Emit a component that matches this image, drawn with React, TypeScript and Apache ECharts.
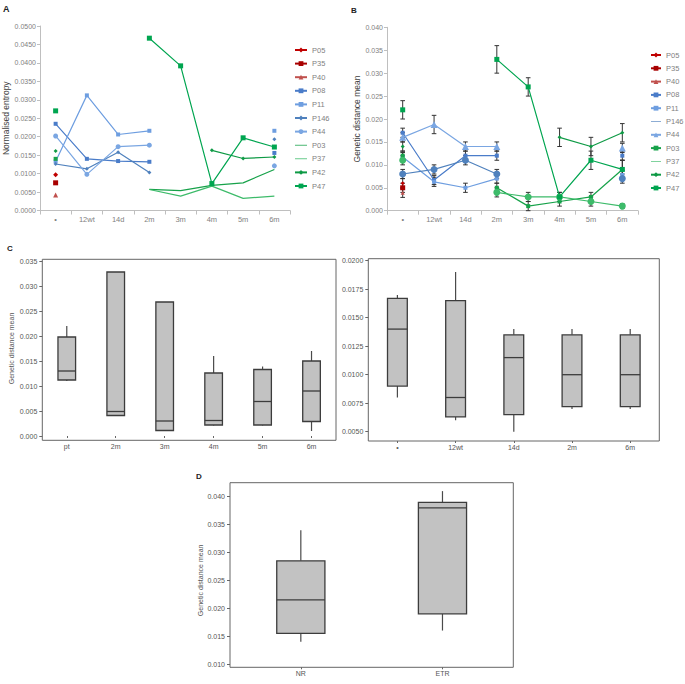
import React, { useEffect, useRef } from "react";
import * as echarts from "echarts";

const timeCats = ["•", "12wt", "14d", "2m", "3m", "4m", "5m", "6m"];
const patients = ["P05", "P35", "P40", "P08", "P11", "P146", "P44", "P03", "P37", "P42", "P47"];

// Panel A: normalised entropy
const aP05 = [0.0097, null, null, null, null, null, null, null];
const aP35 = [0.0075, null, null, null, null, null, null, null];
const aP40 = [0.0042, null, null, null, null, null, null, null];
const aP08 = [0.0235, 0.014, 0.0134, 0.0132, null, null, null, 0.0156];
const aP11 = [0.0133, 0.0312, 0.0206, 0.0216, null, null, null, 0.0216];
const aP146 = [0.0126, 0.0113, 0.0158, 0.0103, null, null, null, 0.0193];
const aP44 = [0.0202, 0.0098, 0.0173, 0.0177, null, null, null, 0.0121];
const aP03 = [0.014, null, null, 0.0057, 0.0054, 0.0068, 0.0075, 0.0111];
const aP37 = [null, null, null, 0.0057, 0.0039, 0.0066, 0.0033, 0.0039];
const aP42 = [0.0161, null, null, null, null, 0.0163, 0.0141, 0.0145];
const aP47 = [0.027, null, null, 0.0467, 0.0392, 0.0073, 0.0197, 0.0172];

// Panel B: genetic distance mean
const bP05 = [0.006, null, null, null, null, null, null, null];
const bP35 = [0.005, null, null, null, null, null, null, null];
const bP40 = [0.0039, null, null, null, null, null, null, null];
const bP08 = [0.017, 0.0067, 0.012, 0.012, null, null, null, 0.012];
const bP11 = [0.0117, 0.0063, 0.005, 0.007, null, null, null, 0.0078];
const bP146 = [0.008, 0.009, 0.011, 0.008, null, null, null, 0.007];
const bP44 = [0.016, 0.0188, 0.014, 0.014, null, null, null, 0.0137];
const bP03 = [0.012, null, null, 0.005, 0.001, 0.002, 0.003, 0.009];
const bP37 = [0.011, null, null, 0.004, 0.003, 0.003, 0.002, 0.001];
const bP42 = [0.014, null, null, null, null, 0.016, 0.014, 0.017];
const bP47 = [0.022, null, null, 0.033, 0.027, 0.003, 0.011, 0.009];

// Panel B: error (±)
const eP05 = [0.001, null, null, null, null, null, null, null];
const eP35 = [0.001, null, null, null, null, null, null, null];
const eP40 = [0.001, null, null, null, null, null, null, null];
const eP08 = [0.001, 0.001, 0.001, 0.001, null, null, null, 0.001];
const eP11 = [0.001, 0.001, 0.001, 0.001, null, null, null, 0.001];
const eP146 = [0.001, 0.001, 0.001, 0.001, null, null, null, 0.001];
const eP44 = [0.001, 0.002, 0.001, 0.001, null, null, null, 0.001];
const eP03 = [0.001, null, null, 0.001, 0.001, 0.001, 0.001, 0.002];
const eP37 = [0.001, null, null, 0.001, 0.001, 0.001, 0.001, 0.0005];
const eP42 = [0.001, null, null, null, null, 0.002, 0.002, 0.002];
const eP47 = [0.002, null, null, 0.003, 0.002, 0.001, 0.002, 0.002];

// Panel C (left)
const c1Cats = ["pt", "2m", "3m", "4m", "5m", "6m"];
const c1Min = [0.011, 0.004, 0.001, 0.0021, 0.0021, 0.001];
const c1Q1 = [0.0112, 0.0041, 0.0011, 0.0022, 0.0022, 0.0029];
const c1Med = [0.013, 0.0049, 0.003, 0.0031, 0.0069, 0.009];
const c1Q3 = [0.0198, 0.0328, 0.0268, 0.0126, 0.0133, 0.015];
const c1Max = [0.022, 0.0328, 0.0268, 0.016, 0.0139, 0.017];

// Panel C (right)
const c2Cats = ["•", "12wt", "14d", "2m", "6m"];
const c2Min = [0.008, 0.006, 0.005, 0.007, 0.007];
const c2Q1 = [0.009, 0.0063, 0.0065, 0.0072, 0.0072];
const c2Med = [0.014, 0.008, 0.0115, 0.01, 0.01];
const c2Q3 = [0.0167, 0.0165, 0.0135, 0.0135, 0.0135];
const c2Max = [0.017, 0.019, 0.014, 0.014, 0.014];

// Panel D
const dCats = ["NR", "ETR"];
const dMin = [0.014, 0.016];
const dQ1 = [0.0155, 0.019];
const dMed = [0.0215, 0.038];
const dQ3 = [0.0285, 0.039];
const dMax = [0.034, 0.041];

const aData = [aP05, aP35, aP40, aP08, aP11, aP146, aP44, aP03, aP37, aP42, aP47];
const bData = [bP05, bP35, bP40, bP08, bP11, bP146, bP44, bP03, bP37, bP42, bP47];
const bErr = [eP05, eP35, eP40, eP08, eP11, eP146, eP44, eP03, eP37, eP42, eP47];

const FONT = "Liberation Sans, Arial, sans-serif";
const colors = ["#C00000", "#A80000", "#C0504D", "#4A7CC9", "#6E9EE0", "#4F81BD", "#7AA6E2", "#17A24A", "#3DBB6A", "#0E9A45", "#00A550"];
const aSym = [
  { s: "diamond", z: 5 }, { s: "rect", z: 5 }, { s: "triangle", z: 5 },
  { s: "rect", z: 4 }, { s: "rect", z: 4 }, { s: "diamond", z: 4 }, { s: "circle", z: 5 },
  { s: "rect", z: 4, bare: true }, { s: "rect", z: 4, bare: true }, { s: "diamond", z: 4 }, { s: "rect", z: 5 },
];
const bSym = [
  { s: "diamond", z: 4 }, { s: "rect", z: 5 }, { s: "triangle", z: 4 },
  { s: "rect", z: 4 }, { s: "rect", z: 4 }, { s: "circle", z: 7, lineIcon: true }, { s: "triangle", z: 7 },
  { s: "rect", z: 4 }, { s: "circle", z: 7, lineIcon: true }, { s: "diamond", z: 4 }, { s: "rect", z: 5 },
];
const THIN = "path://M0,0L20,0L20,1.3L0,1.3Z";

function isolated(arr: (number | null)[], i: number) {
  const prev = i > 0 ? arr[i - 1] : null;
  const next = i < arr.length - 1 ? arr[i + 1] : null;
  return prev == null && next == null;
}

const axisGray = "#BFBFBF";
const labelGray = "#7F7F7F";

function boxRender(ratio: number) {
  return (params: any, api: any) => {
    const x = api.value(0);
    const pMin = api.coord([x, api.value(1)]);
    const pQ1 = api.coord([x, api.value(2)]);
    const pMed = api.coord([x, api.value(3)]);
    const pQ3 = api.coord([x, api.value(4)]);
    const pMax = api.coord([x, api.value(5)]);
    const w = api.size([1, 0])[0] * ratio;
    const cx = pMed[0];
    const st = { stroke: "#4A4A4A", lineWidth: 1.2 };
    return {
      type: "group",
      children: [
        { type: "line", shape: { x1: cx, y1: pMax[1], x2: cx, y2: pQ3[1] }, style: st },
        { type: "line", shape: { x1: cx, y1: pQ1[1], x2: cx, y2: pMin[1] }, style: st },
        { type: "rect", shape: { x: cx - w / 2, y: pQ3[1], width: w, height: pQ1[1] - pQ3[1] }, style: { fill: "#C2C2C2", stroke: "#3C3C3C", lineWidth: 1.3 } },
        { type: "line", shape: { x1: cx - w / 2, y1: pMed[1], x2: cx + w / 2, y2: pMed[1] }, style: { stroke: "#3C3C3C", lineWidth: 1.3 } },
      ],
    };
  };
}

function boxData(mn: number[], q1: number[], md: number[], q3: number[], mx: number[]) {
  return mn.map((_, i) => [i, mn[i], q1[i], md[i], q3[i], mx[i]]);
}

export default function App() {
  const ref = useRef<HTMLDivElement>(null);
  useEffect(() => {
    if (!ref.current) return;
    const chart = echarts.init(ref.current, undefined, { renderer: "svg" });

    const lineAxisX = (gridIndex: number) => ({
      type: "category",
      gridIndex,
      data: timeCats,
      boundaryGap: true,
      axisLine: { lineStyle: { color: axisGray } },
      axisTick: { show: true, length: 4, lineStyle: { color: axisGray } },
      axisLabel: { fontSize: 7.5, color: labelGray, margin: 5, fontFamily: FONT, interval: 0 },
    });
    const lineAxisY = (gridIndex: number, max: number, interval: number, dec: number, name: string, gap: number) => ({
      type: "value",
      gridIndex,
      min: 0,
      max,
      interval,
      name,
      nameLocation: "middle",
      nameGap: gap,
      nameTextStyle: { fontSize: 8.5, color: "#404040", fontFamily: FONT },
      splitLine: { show: false },
      axisLine: { show: true, lineStyle: { color: axisGray } },
      axisTick: { show: true, length: 3, lineStyle: { color: axisGray } },
      axisLabel: { fontSize: 7, color: labelGray, margin: 4, fontFamily: FONT, formatter: (v: number) => v.toFixed(dec) },
    });
    const boxAxisX = (gridIndex: number, data: string[], offset: number) => ({
      type: "category",
      gridIndex,
      data,
      offset,
      boundaryGap: true,
      axisLine: { show: false },
      axisTick: { show: true, alignWithLabel: true, length: 2, lineStyle: { color: "#666" } },
      axisLabel: { fontSize: 7, color: "#555", margin: 3, fontFamily: FONT, interval: 0 },
    });
    const boxAxisY = (gridIndex: number, min: number, max: number, interval: number, dec: number, gap: number, name: string) => ({
      type: "value",
      gridIndex,
      min,
      max,
      interval,
      name,
      nameLocation: "middle",
      nameGap: gap,
      nameTextStyle: { fontSize: 7, color: "#555", fontFamily: FONT },
      splitLine: { show: false },
      axisLine: { show: false },
      axisTick: { show: true, length: 3, lineStyle: { color: "#666" } },
      axisLabel: { fontSize: 7, color: "#555", margin: 5, fontFamily: FONT, formatter: (v: number) => v.toFixed(dec) },
    });

    const aSeries = patients.map((p, i) => {
      const arr = aData[i];
      const sym = aSym[i] as any;
      return {
        type: "line",
        name: p,
        xAxisIndex: 0,
        yAxisIndex: 0,
        data: arr,
        connectNulls: false,
        symbol: sym.s,
        symbolSize: sym.bare ? (_v: any, prm: any) => (isolated(arr, prm.dataIndex) ? 4 : 0) : sym.z,
        showSymbol: true,
        lineStyle: { width: 1.2, color: colors[i] },
        itemStyle: { color: colors[i] },
        z: 3,
      };
    });
    const bSeries = patients.map((p, i) => {
      const sym = bSym[i] as any;
      return {
        type: "line",
        name: "B_" + p,
        xAxisIndex: 1,
        yAxisIndex: 1,
        data: bData[i],
        connectNulls: false,
        symbol: sym.s,
        symbolSize: sym.z,
        showSymbol: true,
        lineStyle: { width: 1.2, color: colors[i] },
        itemStyle: { color: colors[i] },
        z: 3,
      };
    });
    const errData: number[][] = [];
    bData.forEach((arr, i) => {
      arr.forEach((v, j) => {
        const e = bErr[i][j];
        if (v != null && e != null) errData.push([j, v - e, v + e]);
      });
    });

    const legendCommon = {
      orient: "vertical",
      padding: 0,
      itemHeight: 6,
      textStyle: { fontSize: 7.5, color: labelGray, fontFamily: FONT },
      selectedMode: false,
    };

    const option: any = {
      animation: false,
      textStyle: { fontFamily: FONT },
      grid: [
        { left: 40, top: 26, width: 250, height: 184.5, outerBoundsMode: "none" },
        { left: 387, top: 27.3, width: 251, height: 183.4, outerBoundsMode: "none" },
        { left: 42.3, top: 261, width: 293.7, height: 175, outerBoundsMode: "none" },
        { left: 368.3, top: 260.7, width: 291, height: 171, outerBoundsMode: "none" },
        { left: 230, top: 496.7, width: 283.3, height: 167.3, outerBoundsMode: "none" },
      ],
      xAxis: [
        lineAxisX(0),
        lineAxisX(1),
        boxAxisX(2, c1Cats, 4.3),
        boxAxisX(3, c2Cats, 9.3),
        boxAxisX(4, dCats, 3.3),
      ],
      yAxis: [
        lineAxisY(0, 0.05, 0.005, 4, "Normalised entropy", 28),
        lineAxisY(1, 0.04, 0.005, 3, "Genetic distance mean", 23),
        boxAxisY(2, 0, 0.035, 0.005, 3, 27, "Genetic distance mean"),
        boxAxisY(3, 0.005, 0.02, 0.0025, 4, 28, ""),
        boxAxisY(4, 0.01, 0.04, 0.005, 3, 24, "Genetic distance mean"),
      ],
      legend: [
        {
          ...legendCommon,
          left: 294,
          top: 46,
          itemWidth: 12,
          itemGap: 5.6,
          data: patients.map((p, i) => ((aSym[i] as any).bare ? { name: p, icon: THIN } : p)),
        },
        {
          ...legendCommon,
          left: 650,
          top: 51,
          itemWidth: 10,
          itemGap: 5.3,
          formatter: (n: string) => n.slice(2),
          data: patients.map((p, i) => ((bSym[i] as any).lineIcon ? { name: "B_" + p, icon: THIN } : "B_" + p)),
        },
      ],
      graphic: [
        { type: "text", left: 3, top: 4, style: { text: "A", font: "bold 9px " + FONT, fill: "#222" } },
        { type: "text", left: 351, top: 6, style: { text: "B", font: "bold 8px " + FONT, fill: "#222" } },
        { type: "text", left: 7, top: 244, style: { text: "C", font: "bold 8px " + FONT, fill: "#222" } },
        { type: "text", left: 196, top: 472, style: { text: "D", font: "bold 8px " + FONT, fill: "#222" } },
        { type: "rect", shape: { x: 42.3, y: 259.3, width: 293.7, height: 181 }, style: { fill: "none", stroke: "#666", lineWidth: 1 }, silent: true },
        { type: "rect", shape: { x: 368.3, y: 258.7, width: 291, height: 182.3 }, style: { fill: "none", stroke: "#666", lineWidth: 1 }, silent: true },
        { type: "rect", shape: { x: 230, y: 482.7, width: 283.3, height: 184.6 }, style: { fill: "none", stroke: "#666", lineWidth: 1 }, silent: true },
      ],
      series: [
        ...aSeries,
        {
          type: "custom",
          name: "errors",
          xAxisIndex: 1,
          yAxisIndex: 1,
          data: errData,
          encode: { x: 0, y: [1, 2] },
          z: 2,
          renderItem: (params: any, api: any) => {
            const lo = api.coord([api.value(0), api.value(1)]);
            const hi = api.coord([api.value(0), api.value(2)]);
            const x = lo[0];
            const c = 2.3;
            const st = { stroke: "#333", lineWidth: 1 };
            return {
              type: "group",
              children: [
                { type: "line", shape: { x1: x, y1: lo[1], x2: x, y2: hi[1] }, style: st },
                { type: "line", shape: { x1: x - c, y1: lo[1], x2: x + c, y2: lo[1] }, style: st },
                { type: "line", shape: { x1: x - c, y1: hi[1], x2: x + c, y2: hi[1] }, style: st },
              ],
            };
          },
        },
        ...bSeries,
        {
          type: "custom",
          name: "boxC1",
          xAxisIndex: 2,
          yAxisIndex: 2,
          data: boxData(c1Min, c1Q1, c1Med, c1Q3, c1Max),
          encode: { x: 0, y: [1, 2, 3, 4, 5] },
          renderItem: boxRender(0.36),
        },
        {
          type: "custom",
          name: "boxC2",
          xAxisIndex: 3,
          yAxisIndex: 3,
          data: boxData(c2Min, c2Q1, c2Med, c2Q3, c2Max),
          encode: { x: 0, y: [1, 2, 3, 4, 5] },
          renderItem: boxRender(0.34),
        },
        {
          type: "custom",
          name: "boxD",
          xAxisIndex: 4,
          yAxisIndex: 4,
          data: boxData(dMin, dQ1, dMed, dQ3, dMax),
          encode: { x: 0, y: [1, 2, 3, 4, 5] },
          renderItem: boxRender(0.34),
        },
      ],
    };
    chart.setOption(option);
    return () => chart.dispose();
  }, []);
  return <div ref={ref} style={{ position: "fixed", left: 0, top: 0, width: 685, height: 684, background: "#fff" }} />;
}
